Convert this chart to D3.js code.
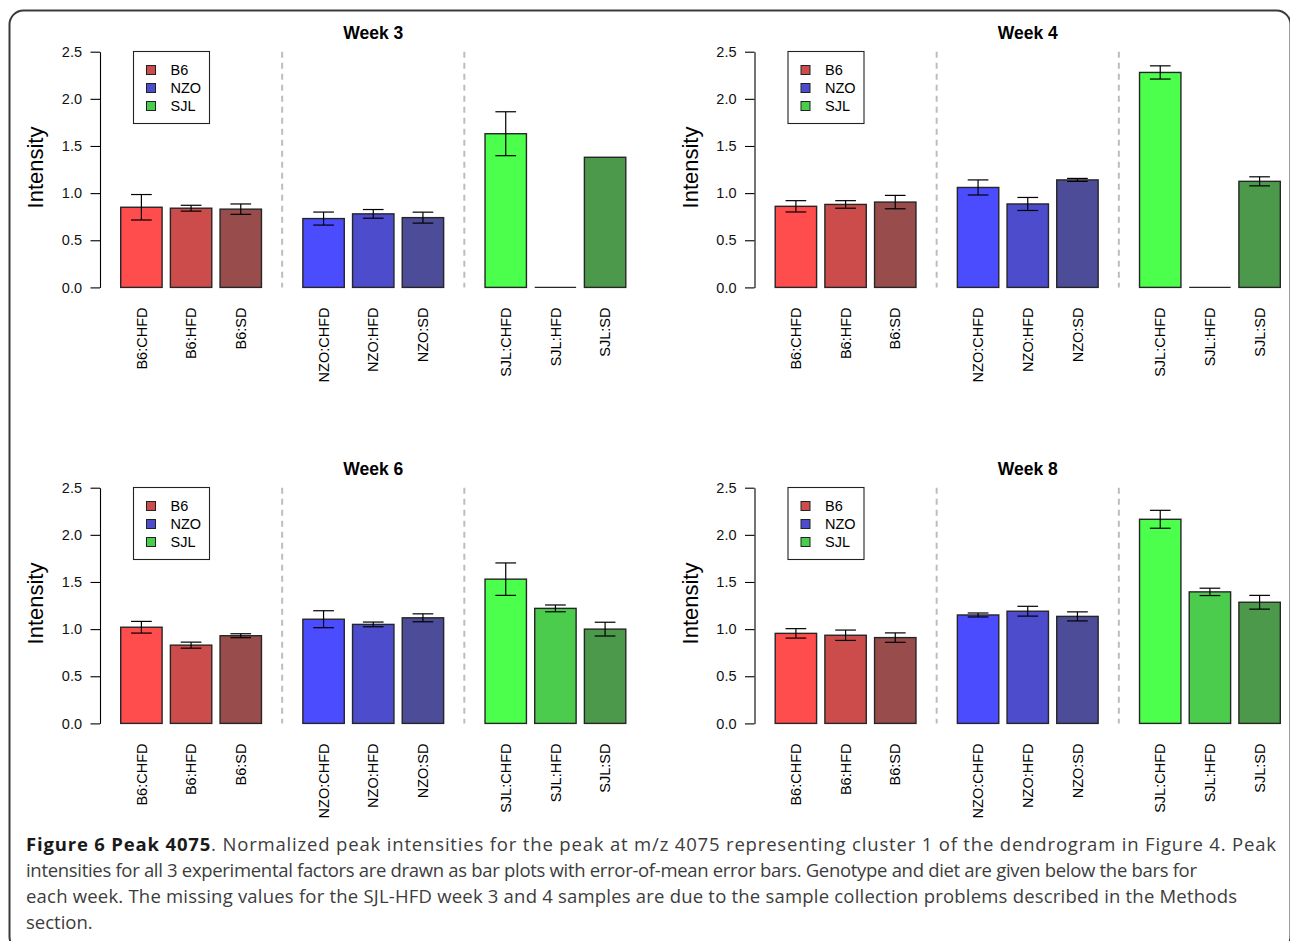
<!DOCTYPE html>
<html>
<head>
<meta charset="utf-8">
<script src="https://cdn.jsdelivr.net/npm/d3@7"></script>
<style>
  html, body { margin: 0; padding: 0; background: #fff; }
  svg { display: block; }
</style>
</head>
<body>
<div id="chart"></div>
<script>
// chart data
const weeks = ['Week 3', 'Week 4', 'Week 6', 'Week 8'];
const genotypes = ['B6', 'NZO', 'SJL'];
const diets = ['CHFD', 'HFD', 'SD'];
const yTicks = [0, 0.5, 1.0, 1.5, 2.0, 2.5];

// means and error-of-mean per bar (B6, NZO, SJL x CHFD, HFD, SD); null = missing
const week3Means = [0.85, 0.84, 0.83, 0.73, 0.78, 0.74, 1.63, null, 1.38];
const week3Errors = [0.135, 0.031, 0.055, 0.069, 0.046, 0.058, 0.233, null, null];
const week4Means = [0.86, 0.88, 0.905, 1.06, 0.885, 1.14, 2.28, null, 1.125];
const week4Errors = [0.06, 0.04, 0.071, 0.08, 0.069, 0.016, 0.07, null, 0.048];
const week6Means = [1.02, 0.83, 0.93, 1.105, 1.05, 1.12, 1.53, 1.22, 1.0];
const week6Errors = [0.062, 0.032, 0.021, 0.09, 0.025, 0.042, 0.172, 0.036, 0.073];
const week8Means = [0.955, 0.935, 0.91, 1.15, 1.19, 1.135, 2.165, 1.395, 1.285];
const week8Errors = [0.05, 0.055, 0.05, 0.021, 0.052, 0.048, 0.095, 0.039, 0.073];

const allMeans = [week3Means, week4Means, week6Means, week8Means];
const allErrors = [week3Errors, week4Errors, week6Errors, week8Errors];

const barColors = ['#FF4C4C', '#CC4C4C', '#994C4C', '#4C4CFF', '#4C4CCC', '#4C4C99', '#4CFF4C', '#4CCC4C', '#4C994C'];
const legendColors = ['#CC4C4C', '#4C4CCC', '#4CCC4C'];

const captionLines = [
  [['Figure 6 Peak 4075', true], ['. Normalized peak intensities for the peak at m/z 4075 representing cluster 1 of the dendrogram in Figure 4. Peak', false]],
  [['intensities for all 3 experimental factors are drawn as bar plots with error-of-mean error bars. Genotype and diet are given below the bars for', false]],
  [['each week. The missing values for the SJL-HFD week 3 and 4 samples are due to the sample collection problems described in the Methods', false]],
  [['section.', false]]
];
const captionWidths = [1250, 1171, 1211, null];

// layout
const W = 1290, H = 941;
const FONT = '"Liberation Sans", Arial, Helvetica, sans-serif';
const barLabels = genotypes.flatMap(g => diets.map(d => `${g}:${d}`));

const svg = d3.select('#chart')
  .append('svg')
  .attr('width', W)
  .attr('height', H)
  .style('background', '#fff');

// outer rounded frame
svg.append('rect')
  .attr('x', 9.5).attr('y', 10.5)
  .attr('width', 1281).attr('height', 940)
  .attr('rx', 14).attr('ry', 14)
  .attr('fill', 'none')
  .attr('stroke', '#3a3a3a')
  .attr('stroke-width', 2);

// bar units: width 1, 0.2 inside group, 1 between groups
const barStart = i => 0.5 + Math.floor(i / 3) * 4.4 + (i % 3) * 1.2;

function drawPanel(k) {
  const dx = (k % 2) * 654.5;
  const dy = Math.floor(k / 2) * 436;
  const means = allMeans[k];
  const errors = allErrors[k];

  const g = svg.append('g').attr('transform', `translate(${dx},${dy})`);

  const x = d3.scaleLinear().domain([0, 13.2]).range([100, 646.5]);
  const y = d3.scaleLinear().domain([0, 2.5]).range([287.4, 51.7]);
  const unit = x(1) - x(0);

  // title
  g.append('text')
    .attr('x', (x.range()[0] + x.range()[1]) / 2)
    .attr('y', 38.5)
    .attr('text-anchor', 'middle')
    .attr('font-family', FONT)
    .attr('font-weight', 'bold')
    .attr('font-size', '17.5px')
    .attr('fill', '#000')
    .text(weeks[k]);

  // group separators
  g.append('g').selectAll('line')
    .data([4.4, 8.8])
    .enter()
    .append('line')
    .attr('x1', d => x(d)).attr('x2', d => x(d))
    .attr('y1', y(2.5)).attr('y2', y(0))
    .attr('stroke', '#bdbdbd')
    .attr('stroke-width', 2)
    .attr('stroke-dasharray', '6,5');

  // y axis
  const axis = g.append('g')
    .attr('transform', `translate(${x(0)},0)`)
    .call(d3.axisLeft(y).tickValues(yTicks).tickFormat(d3.format('.1f'))
      .tickSize(9.5).tickSizeOuter(0).tickPadding(8.5));
  axis.select('.domain').attr('stroke', '#000').attr('stroke-width', 1.1);
  axis.selectAll('.tick line').attr('stroke', '#000').attr('stroke-width', 1.1);
  axis.selectAll('.tick text')
    .attr('font-family', FONT)
    .attr('font-size', '14.5px')
    .attr('fill', '#111');

  // y label
  g.append('text')
    .attr('transform', `translate(43,167.5) rotate(-90)`)
    .attr('text-anchor', 'middle')
    .attr('font-family', FONT)
    .attr('font-size', '22px')
    .attr('fill', '#000')
    .text('Intensity');

  const bars = barLabels.map((label, i) => ({
    label, i, mean: means[i], err: errors[i], color: barColors[i]
  }));

  // bars
  g.append('g').selectAll('rect')
    .data(bars.filter(d => d.mean !== null))
    .enter()
    .append('rect')
    .attr('x', d => x(barStart(d.i)))
    .attr('width', unit)
    .attr('y', d => y(d.mean))
    .attr('height', d => y(0) - y(d.mean))
    .attr('fill', d => d.color)
    .attr('stroke', '#262626')
    .attr('stroke-width', 1.4);

  // missing values: zero-height bar drawn as a line
  g.append('g').selectAll('line')
    .data(bars.filter(d => d.mean === null))
    .enter()
    .append('line')
    .attr('x1', d => x(barStart(d.i)))
    .attr('x2', d => x(barStart(d.i) + 1))
    .attr('y1', y(0)).attr('y2', y(0))
    .attr('stroke', '#262626')
    .attr('stroke-width', 1.4);

  // error bars
  const eb = g.append('g').selectAll('g')
    .data(bars.filter(d => d.mean !== null && d.err !== null))
    .enter()
    .append('g')
    .attr('stroke', '#000')
    .attr('stroke-width', 1.2);
  const cx = d => x(barStart(d.i) + 0.5);
  eb.append('line')
    .attr('x1', cx).attr('x2', cx)
    .attr('y1', d => y(d.mean + d.err))
    .attr('y2', d => y(d.mean - d.err));
  eb.append('line')
    .attr('x1', d => cx(d) - unit * 0.25).attr('x2', d => cx(d) + unit * 0.25)
    .attr('y1', d => y(d.mean + d.err)).attr('y2', d => y(d.mean + d.err));
  eb.append('line')
    .attr('x1', d => cx(d) - unit * 0.25).attr('x2', d => cx(d) + unit * 0.25)
    .attr('y1', d => y(d.mean - d.err)).attr('y2', d => y(d.mean - d.err));

  // rotated category labels
  g.append('g').selectAll('text')
    .data(bars)
    .enter()
    .append('text')
    .attr('transform', d => `translate(${cx(d)},307.5) rotate(-90)`)
    .attr('dy', '0.36em')
    .attr('text-anchor', 'end')
    .attr('font-family', FONT)
    .attr('font-size', '14.5px')
    .attr('fill', '#000')
    .text(d => d.label);

  // legend
  const lg = g.append('g');
  lg.append('rect')
    .attr('x', 133.5).attr('y', 51.5)
    .attr('width', 76).attr('height', 72)
    .attr('fill', '#fff')
    .attr('stroke', '#222')
    .attr('stroke-width', 1.1);
  const items = lg.selectAll('g.item')
    .data(genotypes)
    .enter()
    .append('g')
    .attr('class', 'item')
    .attr('transform', (d, i) => `translate(0,${70 + i * 18})`);
  items.append('rect')
    .attr('x', 146.5).attr('y', -4.5)
    .attr('width', 9).attr('height', 9)
    .attr('fill', (d, i) => legendColors[i])
    .attr('stroke', '#222')
    .attr('stroke-width', 1);
  items.append('text')
    .attr('x', 170.5)
    .attr('dy', '0.36em')
    .attr('font-family', FONT)
    .attr('font-size', '14.5px')
    .attr('fill', '#000')
    .text(d => d);
}

weeks.forEach((w, k) => drawPanel(k));

// caption
const cap = svg.append('g');
captionLines.forEach((parts, li) => {
  const t = cap.append('text')
    .attr('x', 26)
    .attr('y', 851 + li * 26)
    .attr('font-family', '"Open Sans", "Noto Sans", sans-serif')
    .attr('font-size', '18.5px')
    .attr('fill', '#3c3c3c');
  if (captionWidths[li]) {
    t.attr('textLength', captionWidths[li]).attr('lengthAdjust', 'spacing');
  }
  parts.forEach(([txt, bold]) => {
    t.append('tspan')
      .attr('font-weight', bold ? 'bold' : 'normal')
      .attr('fill', bold ? '#1a1a1a' : '#3c3c3c')
      .text(txt);
  });
});
</script>
</body>
</html>
